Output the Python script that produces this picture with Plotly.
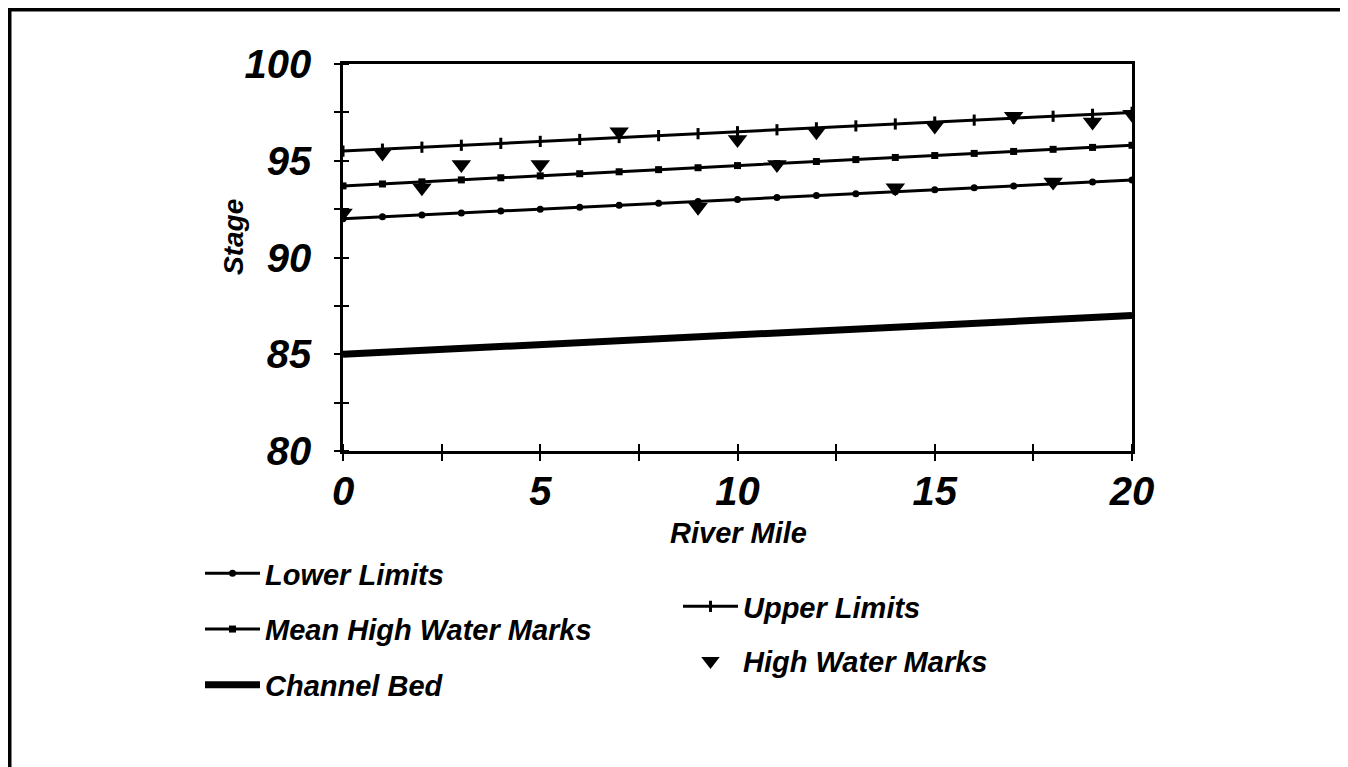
import plotly.graph_objects as go

# ---- data ----
miles = list(range(21))
upper_limits = [95.5, 95.6, 95.7, 95.8, 95.9, 96.0, 96.1, 96.2, 96.3, 96.4, 96.5,
                96.6, 96.7, 96.8, 96.9, 97.0, 97.1, 97.2, 97.3, 97.4, 97.5]
mean_hwm = [93.70, 93.80, 93.91, 94.01, 94.12, 94.22, 94.33, 94.43, 94.54, 94.64, 94.75,
            94.85, 94.96, 95.06, 95.17, 95.27, 95.38, 95.48, 95.59, 95.69, 95.80]
lower_limits = [92.0, 92.1, 92.2, 92.3, 92.4, 92.5, 92.6, 92.7, 92.8, 92.9, 93.0,
                93.1, 93.2, 93.3, 93.4, 93.5, 93.6, 93.7, 93.8, 93.9, 94.0]
bed_miles = [0, 20]
channel_bed = [85.0, 87.0]
hwm_miles = [0, 1, 2, 3, 5, 7, 9, 10, 11, 12, 14, 15, 17, 18, 19, 20]
hwm_stage = [92.3, 95.4, 93.6, 94.8, 94.8, 96.5, 92.6, 96.1, 94.8, 96.5,
             93.6, 96.8, 97.3, 93.9, 97.0, 97.4]
x_ticks = [0, 5, 10, 15, 20]
y_ticks = [80, 85, 90, 95, 100]
x_all_ticks = [0, 2.5, 5, 7.5, 10, 12.5, 15, 17.5, 20]
y_all_ticks = [80, 82.5, 85, 87.5, 90, 92.5, 95, 97.5, 100]

FONT = "Liberation Sans"
OFF = 8                      # page body margin
W, H = 1348 - OFF, 767 - OFF
L, R, T, B = 343 - OFF, 1132 - OFF, 64 - OFF, 451 - OFF  # plot area (figure px)


def px_x(p):
    """reference screen x -> paper x"""
    return (p - OFF - L) / (R - L)


def px_y(p):
    """reference screen y -> paper y"""
    return (B - (p - OFF)) / (B - T)


def bi(size):
    return dict(family=FONT, size=size, color="black", weight="bold", style="italic")


def nudge(vals):
    # tiny offset so the inner half of each tick is drawn as a minor tick
    eps = 1e-4
    return [v + eps if v < vals[-1] else v - eps for v in vals]


fig = go.Figure()

fig.add_trace(go.Scatter(x=miles, y=lower_limits, mode="lines+markers", name="Lower Limits",
                         line=dict(color="black", width=3),
                         marker=dict(symbol="circle", size=7, color="black"),
                         legend="legend", legendgroup="a"))
fig.add_trace(go.Scatter(x=miles, y=mean_hwm, mode="lines+markers", name="Mean High Water Marks",
                         line=dict(color="black", width=3),
                         marker=dict(symbol="square", size=7, color="black"),
                         legend="legend", legendgroup="b"))
fig.add_trace(go.Scatter(x=bed_miles, y=channel_bed, mode="lines", name="Channel Bed",
                         line=dict(color="black", width=7),
                         legend="legend", legendgroup="c"))
fig.add_trace(go.Scatter(x=miles, y=upper_limits, mode="lines+markers", name="Upper Limits",
                         line=dict(color="black", width=3),
                         marker=dict(symbol="line-ns", size=8, color="black",
                                     line=dict(color="black", width=3)),
                         legend="legend2", legendgroup="d"))
fig.add_trace(go.Scatter(x=hwm_miles, y=hwm_stage, mode="markers", name="High Water Marks",
                         marker=dict(symbol="triangle-down", size=17, color="black"),
                         legend="legend2", legendgroup="e"))

fig.update_layout(
    width=W, height=H,
    margin=dict(l=L, r=W - R, t=T, b=H - B, autoexpand=False),
    paper_bgcolor="white", plot_bgcolor="white",
    xaxis=dict(range=[0, 20], tickvals=x_all_ticks,
               ticktext=[str(v) if v in x_ticks else "" for v in x_all_ticks],
               tickfont=bi(40), showgrid=False, zeroline=False,
               showline=True, linecolor="black", linewidth=3, mirror=True,
               ticks="outside", ticklen=7, tickwidth=2, tickcolor="black",
               minor=dict(tickvals=nudge(x_all_ticks), ticks="inside", ticklen=7,
                          tickwidth=2, tickcolor="black", showgrid=False),
               ticklabelstandoff=-4),
    yaxis=dict(range=[80, 100], tickvals=y_all_ticks,
               ticktext=[str(v) if v in y_ticks else "" for v in y_all_ticks],
               tickfont=bi(40), showgrid=False, zeroline=False,
               showline=True, linecolor="black", linewidth=2.5, mirror=True,
               ticks="outside", ticklen=6, tickwidth=2, tickcolor="black",
               minor=dict(tickvals=nudge(y_all_ticks), ticks="inside", ticklen=6,
                          tickwidth=2, tickcolor="black", showgrid=False),
               ticklabelstandoff=15),
    legend=dict(x=px_x(200), y=px_y(548), xanchor="left", yanchor="top",
                font=bi(29), bgcolor="rgba(0,0,0,0)", tracegroupgap=15,
                itemwidth=55, traceorder="grouped"),
    legend2=dict(x=px_x(678), y=px_y(581), xanchor="left", yanchor="top",
                 font=bi(29), bgcolor="rgba(0,0,0,0)", tracegroupgap=14,
                 itemwidth=55, traceorder="grouped"),
    annotations=[
        dict(text="Stage", xref="paper", yref="paper", x=px_x(233), y=px_y(237),
             xanchor="center", yanchor="middle",
             textangle=-90, showarrow=False, font=bi(28)),
        dict(text="River Mile", xref="paper", yref="paper", x=px_x(738), y=px_y(533),
             xanchor="center", yanchor="middle",
             showarrow=False, font=bi(29)),
    ],
    shapes=[
        dict(type="rect", xref="paper", yref="paper",
             x0=px_x(9.5), x1=px_x(1344.5), y0=px_y(800), y1=px_y(9.5),
             line=dict(color="black", width=4), fillcolor="rgba(0,0,0,0)", layer="above"),
    ],
)

fig.write_html("out.html")
